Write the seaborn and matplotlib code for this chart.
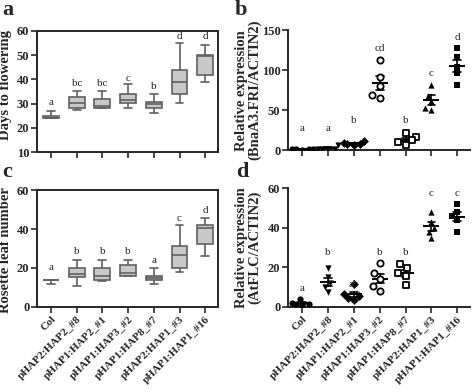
import seaborn as sns
import pandas as pd
import matplotlib.pyplot as plt

labels = ['Col', 'pHAP2:HAP2_#8', 'pHAP1:HAP2_#1', 'pHAP1:HAP3_#2',
          'pHAP1:HAP8_#7', 'pHAP2:HAP1_#3', 'pHAP1:HAP1_#16']

# box plots: min, q1, median, q3, max per line
days = [[24, 24, 24.2, 25, 27],
        [27.2, 28.3, 30.2, 32.6, 35.2],
        [28, 28, 29.1, 32.1, 35.2],
        [28, 30.2, 31.3, 33.8, 38.1],
        [26.1, 28, 29.7, 30.5, 34.1],
        [30.1, 34.1, 38.9, 43.9, 54.9],
        [38.9, 41.7, 49.8, 50, 54.1]]
leaves = [[12, 14, 14, 14, 14],
          [11, 15.3, 16.8, 19.8, 24.2],
          [13.3, 14, 16, 20, 24],
          [16, 16, 17.5, 21.5, 24],
          [12, 14, 14.8, 15.8, 20],
          [18.2, 19.8, 26.7, 31.2, 42.3],
          [26.3, 32.2, 40.7, 42.2, 45.5]]

# expression replicates
fri = [[2, 1.5, 1, 1, 0.5],
       [7, 2, 1.5, 1, 1.5],
       [11, 9, 8, 8, 7],
       [113, 92, 80, 69, 65],
       [21, 16, 13, 10, 6],
       [82, 68, 61, 53, 50],
       [128, 116, 104, 96, 82]]
flc = [[4, 2, 1.5, 1.5, 1],
       [19.5, 15, 12, 10, 7.3],
       [11.5, 6.5, 5.5, 4.5, 3.5],
       [22, 17, 14, 10.5, 8],
       [21.5, 19.5, 17, 15.5, 11],
       [48, 43, 40, 38, 35],
       [52, 48, 46, 44, 38]]

let_a = ['a', 'bc', 'bc', 'c', 'b', 'd', 'd']
let_b = ['a', 'a', 'b', 'cd', 'b', 'c', 'd']
let_c = ['a', 'b', 'b', 'b', 'a', 'c', 'd']
let_d = ['a', 'b', 'ab', 'b', 'b', 'c', 'c']
ly_a = [30.3, 38.2, 38.2, 40.3, 37, 57.7, 57.7]
ly_b = [27, 27, 37, 127, 37, 96, 141]
ly_c = [20.3, 28.3, 28.3, 28.3, 23.7, 45.5, 49.5]
ly_d = [9.5, 27.3, 11.5, 27.3, 27.3, 57.5, 57.5]

markers = ['o', 'v', 'D', 'o', 's', '^', 's']
filled = [True, True, True, False, False, True, True]

sns.set_style('ticks')
plt.rcParams['font.family'] = ['Liberation Serif', 'DejaVu Serif']
plt.rcParams['font.weight'] = 'bold'
plt.rcParams['axes.labelweight'] = 'bold'
plt.rcParams['axes.linewidth'] = 1.4


def long(vals):
    return pd.DataFrame({'line': [labels[i] for i in range(7) for v in vals[i]],
                         'value': [v for row in vals for v in row]})


fig = plt.figure(figsize=(4.73, 3.92), dpi=100)
ax_a = fig.add_axes([0.078, 0.612, 0.383, 0.309])
ax_b = fig.add_axes([0.609, 0.617, 0.385, 0.306])
ax_c = fig.add_axes([0.078, 0.217, 0.383, 0.298])
ax_d = fig.add_axes([0.609, 0.217, 0.385, 0.303])


def boxpanel(ax, vals, lets, ly, ylim, yticks, ylabel, ypos):
    sns.boxplot(data=long(vals), x='line', y='value', order=labels, ax=ax,
                whis=(0, 100), width=0.62, color='#c8c8c8', linecolor='#606060',
                linewidth=1.2, showfliers=False)
    for i in range(7):
        ax.text(i, ly[i], lets[i], ha='center', va='center', fontsize=8,
                fontweight='normal')
    ax.set_ylim(ylim)
    ax.set_yticks(yticks)
    ax.set_ylabel(ylabel, fontsize=10.5)
    ax.yaxis.set_label_coords(-0.135, ypos)


def dotpanel(ax, vals, lets, ly, ylim, yticks, ylabel):
    df = long(vals)
    for i in range(7):
        sub = df[df['line'] == labels[i]]
        if filled[i]:
            sns.swarmplot(data=sub, x='line', y='value', order=labels, ax=ax,
                          marker=markers[i], color='black', size=4.5)
        else:
            sns.swarmplot(data=sub, x='line', y='value', order=labels, ax=ax,
                          marker=markers[i], color='white', edgecolor='black',
                          linewidth=1.3, size=4.5)
    sns.pointplot(data=df, x='line', y='value', order=labels, ax=ax,
                  estimator='mean', errorbar='se', color='black',
                  linestyle='none', marker='_', markersize=12,
                  markeredgewidth=1.4, capsize=0.3,
                  err_kws={'linewidth': 1.2})
    for i in range(7):
        ax.text(i, ly[i], lets[i], ha='center', va='center', fontsize=8,
                fontweight='normal')
    ax.set_ylim(ylim)
    ax.set_yticks(yticks)
    ax.set_ylabel(ylabel, fontsize=10.5, linespacing=1.0)
    ax.yaxis.set_label_coords(-0.145, 0.5)
    sns.despine(ax=ax)


boxpanel(ax_a, days, let_a, ly_a, (10, 60), [10, 20, 30, 40, 50, 60],
         'Days to flowering', 0.55)
boxpanel(ax_c, leaves, let_c, ly_c, (0, 60), [0, 20, 40, 60],
         'Rosette leaf number', 0.49)
dotpanel(ax_b, fri, let_b, ly_b, (0, 150), [0, 50, 100, 150],
         'Relative expression\n(BnaA3.FRI/ACTIN2)')
dotpanel(ax_d, flc, let_d, ly_d, (0, 60), [0, 20, 40, 60],
         'Relative expression\n(AtFLC/ACTIN2)')

for ax in [ax_a, ax_b, ax_c, ax_d]:
    ax.set_xlim(-0.55, 6.5)
    ax.set_xlabel('')
    ax.tick_params(direction='out', length=4, width=1.2, labelsize=9, pad=1.5)
    for lab in ax.get_yticklabels():
        lab.set_fontweight('bold')
for ax in [ax_a, ax_b]:
    ax.set_xticklabels([])
for ax in [ax_c, ax_d]:
    ax.set_xticks(range(7))
    ax.set_xticklabels(labels, rotation=45, ha='right', rotation_mode='anchor',
                       fontsize=8, fontweight='bold')

for x, y, t in [(0.004, 0.962, 'a'), (0.497, 0.962, 'b'),
                (0.004, 0.548, 'c'), (0.499, 0.548, 'd')]:
    fig.text(x, y, t, fontsize=16, fontweight='bold', va='baseline', ha='left')

plt.savefig('out.png', dpi=100)
